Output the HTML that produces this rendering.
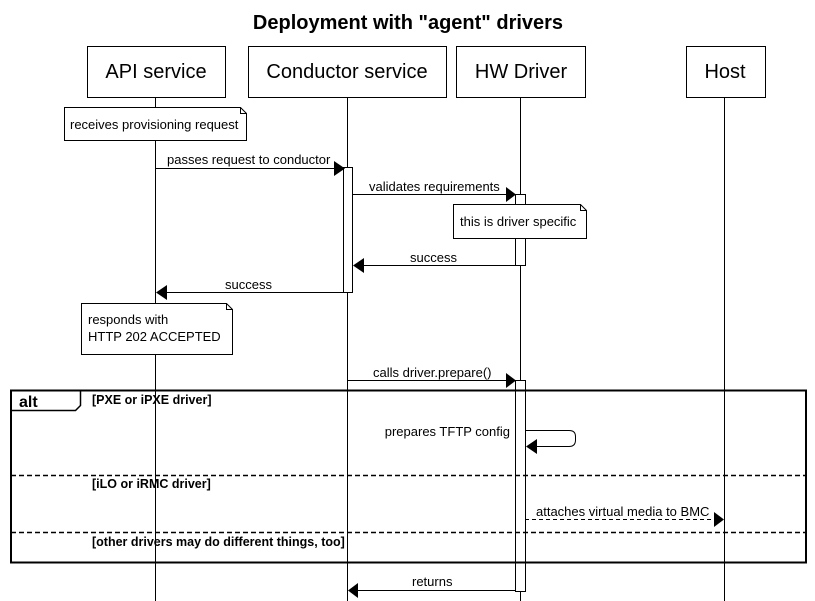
<!DOCTYPE html>
<html><head><style>
body{margin:0;background:#fff}
svg{display:block}
text{font-family:"Liberation Sans",sans-serif;fill:#000}
</style></head><body>
<svg width="815" height="601" viewBox="0 0 815 601" xmlns="http://www.w3.org/2000/svg">
<text x="408" y="29" font-size="20" font-weight="bold" text-anchor="middle">Deployment with "agent" drivers</text>
<g stroke="#000" stroke-width="1" fill="#fff">
<line x1="155.5" y1="97" x2="155.5" y2="601"/>
<line x1="347.5" y1="97" x2="347.5" y2="601"/>
<line x1="520.5" y1="97" x2="520.5" y2="601"/>
<line x1="724.5" y1="97" x2="724.5" y2="601"/>
<rect x="87.5" y="46.5" width="138" height="51"/>
<rect x="248.5" y="46.5" width="198" height="51"/>
<rect x="456.5" y="46.5" width="129" height="51"/>
<rect x="686.5" y="46.5" width="79" height="51"/>
<path d="M64.5 107.5H240.5L246.5 113.5V140.5H64.5Z"/>
<path d="M240.5 107.5V113.5H246.5" fill="none"/>
<rect x="343.5" y="167.5" width="9" height="125"/>
<rect x="515.5" y="194.5" width="10" height="71"/>
<path d="M453.5 204.5H580.5L586.5 210.5V238.5H453.5Z"/>
<path d="M580.5 204.5V210.5H586.5" fill="none"/>
<path d="M81.5 303.5H226.5L232.5 309.5V354.5H81.5Z"/>
<path d="M226.5 303.5V309.5H232.5" fill="none"/>
<rect x="515.5" y="380.5" width="10" height="211"/>
<line x1="155" y1="168.5" x2="334" y2="168.5"/>
<line x1="352" y1="194.5" x2="506" y2="194.5"/>
<line x1="364" y1="265.5" x2="515" y2="265.5"/>
<line x1="167" y1="292.5" x2="343" y2="292.5"/>
<line x1="347" y1="380.5" x2="506" y2="380.5"/>
<path d="M525 430.5H569Q575.5 430.5 575.5 436.5V440Q575.5 446.5 569 446.5H537" fill="none"/>
<line x1="525" y1="519.5" x2="714" y2="519.5" stroke-dasharray="4,3"/>
<line x1="358" y1="590.5" x2="515" y2="590.5"/>
<rect x="11" y="390.5" width="795" height="172" fill="none" stroke-width="2"/>
<path d="M11 410.5H75.5L80.5 405.5V390.5" fill="none" stroke-width="1.5"/>
<line x1="11" y1="475.5" x2="806" y2="475.5" stroke-dasharray="5,3" stroke-width="1.5"/>
<line x1="11" y1="532.5" x2="806" y2="532.5" stroke-dasharray="5,3" stroke-width="1.5"/>
</g>
<g fill="#000">
<path d="M334 161L345 168.5L334 176Z"/>
<path d="M506 187L516 194.5L506 202Z"/>
<path d="M364 258L353 265.5L364 273Z"/>
<path d="M167 285L156 292.5L167 300Z"/>
<path d="M506 373L516 380.5L506 388Z"/>
<path d="M537 439L526 446.5L537 454Z"/>
<path d="M714 512L724 519.5L714 527Z"/>
<path d="M358 583L348 590.5L358 598Z"/>
</g>
<g font-size="20" text-anchor="middle">
<text x="156" y="78">API service</text>
<text x="347" y="78">Conductor service</text>
<text x="521" y="78">HW Driver</text>
<text x="725" y="78">Host</text>
</g>
<g font-size="13">
<text x="70" y="129">receives provisioning request</text>
<text x="167" y="164">passes request to conductor</text>
<text x="369" y="191">validates requirements</text>
<text x="460" y="226">this is driver specific</text>
<text x="410" y="262">success</text>
<text x="225" y="289">success</text>
<text x="88" y="324">responds with</text>
<text x="88" y="341">HTTP 202 ACCEPTED</text>
<text x="373" y="377">calls driver.prepare()</text>
<text x="510" y="436" text-anchor="end">prepares TFTP config</text>
<text x="536" y="516">attaches virtual media to BMC</text>
<text x="412" y="586">returns</text>
</g>
<g font-size="12.5" font-weight="bold">
<text x="92" y="404">[PXE or iPXE driver]</text>
<text x="92" y="488">[iLO or iRMC driver]</text>
<text x="92" y="546">[other drivers may do different things, too]</text>
</g>
<text x="19" y="407" font-size="16" font-weight="bold">alt</text>
</svg>
</body></html>
